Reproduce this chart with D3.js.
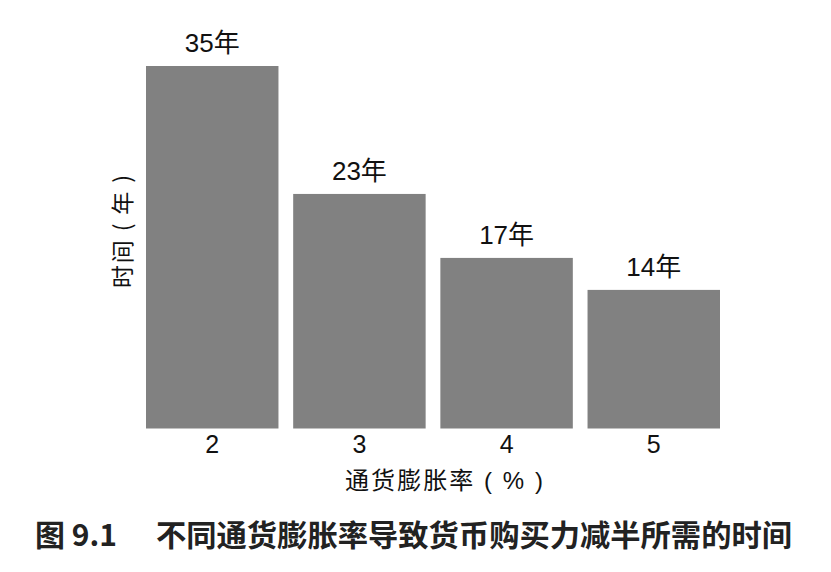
<!DOCTYPE html>
<html>
<head>
<meta charset="utf-8">
<script src="https://cdn.jsdelivr.net/npm/d3@7"></script>
<style>
  body { margin: 0; background: #fff; }
  text { font-family: "Liberation Sans", "Noto Sans CJK SC", sans-serif; fill: #111; }
  .cap { font-family: "Noto Sans CJK SC", sans-serif; font-weight: bold; fill: #222; font-size: 30px; }
</style>
</head>
<body>
<div id="chart"></div>
<script>
// data
var rates = ["2", "3", "4", "5"];
var years = [35, 23, 17, 14];
var labels = ["35年", "23年", "17年", "14年"];

var width = 831, height = 572;

var svg = d3.select("#chart").append("svg")
  .attr("width", width).attr("height", height);

// scales
var x = d3.scaleBand().domain(rates).range([146, 720]).paddingInner(0.1).paddingOuter(0);
var y = d3.scaleLinear().domain([1, 35]).range([428.5, 66]);

// bars
svg.append("g").selectAll("rect").data(years).enter().append("rect")
  .attr("x", function (d, i) { return x(rates[i]); })
  .attr("y", function (d) { return y(d); })
  .attr("width", x.bandwidth())
  .attr("height", function (d) { return y(1) - y(d); })
  .style("fill", "#818181");

// value labels
svg.append("g").selectAll("text").data(years).enter().append("text")
  .attr("x", function (d, i) { return x(rates[i]) + x.bandwidth() / 2; })
  .attr("y", function (d) { return y(d) - 14; })
  .attr("text-anchor", "middle")
  .style("font-size", "26px")
  .text(function (d, i) { return labels[i]; });

// x axis (labels only)
var xAxis = svg.append("g").attr("transform", "translate(0," + y(1) + ")")
  .call(d3.axisBottom(x).tickSize(0).tickPadding(7));
xAxis.select(".domain").remove();
xAxis.selectAll("text").style("font-size", "25px").style("fill", "#111")
  .style("font-family", "'Liberation Sans', sans-serif");

// axis titles
svg.append("text").attr("x", 345).attr("y", 489)
  .attr("textLength", 198).attr("lengthAdjust", "spacing")
  .style("font-size", "24px").text("通货膨胀率 ( % )");

svg.append("text").attr("transform", "translate(121,288)rotate(-90)")
  .attr("dominant-baseline", "central")
  .attr("textLength", 113).attr("lengthAdjust", "spacing")
  .style("font-size", "23px").style("font-family", "'Noto Sans CJK SC', sans-serif")
  .text("时间 ( 年 )");

// caption
svg.append("text").attr("class", "cap").attr("x", 35).attr("y", 546).text("图 9.1");
svg.append("text").attr("class", "cap").attr("x", 156).attr("y", 546)
  .attr("textLength", 636).attr("lengthAdjust", "spacingAndGlyphs")
  .text("不同通货膨胀率导致货币购买力减半所需的时间");
</script>
</body>
</html>
